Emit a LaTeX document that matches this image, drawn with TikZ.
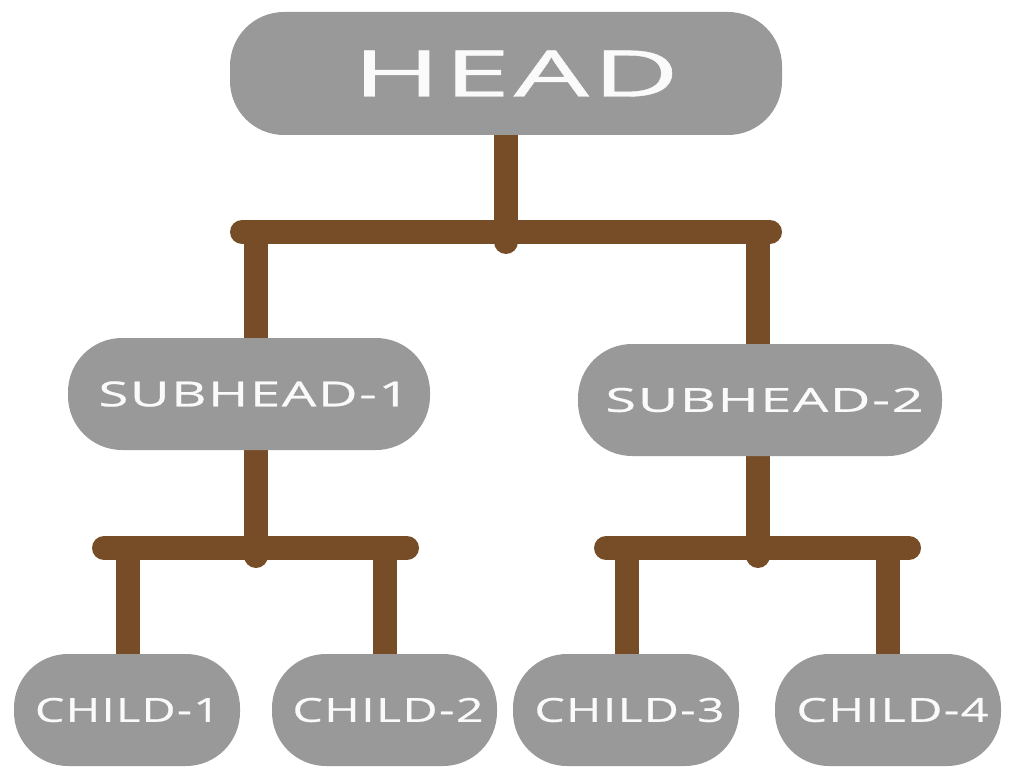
\documentclass[tikz,border=0pt]{standalone}
\usepackage{fontspec}
\usepackage{graphicx}
\newfontfamily\labfont[LetterSpace=3,FakeBold=0.6]{Open Sans}
\usetikzlibrary{backgrounds}
\definecolor{boxgray}{HTML}{999999}
\definecolor{linkbrown}{HTML}{764D26}
\definecolor{txtwhite}{HTML}{FAFAFA}
\tikzset{
  pill/.style={fill=boxgray, draw=none, rounded corners=54pt, inner sep=0pt,
    text=txtwhite, font=\labfont},
  link/.style={draw=linkbrown, line width=24pt, line cap=round},
}
\begin{document}
\begin{tikzpicture}[x=1pt,y=-1pt]
\useasboundingbox (0,0) rectangle (1012,778);
% nodes
\node[pill, minimum width=552pt, minimum height=123pt] (head) at (506,73.5)
  {\hspace*{20pt}\resizebox{326pt}{46pt}{HEAD}};
\node[pill, minimum width=362pt, minimum height=112pt] (sub1) at (249,394)
  {\hspace*{10pt}\resizebox{311pt}{25pt}{SUBHEAD-1}};
\node[pill, minimum width=364pt, minimum height=112pt] (sub2) at (760,400)
  {\hspace*{9pt}\resizebox{318pt}{24pt}{SUBHEAD-2}};
\node[pill, minimum width=226pt, minimum height=112pt] (c1) at (127,710)
  {\hspace*{1pt}\resizebox{185pt}{24pt}{CHILD-1}};
\node[pill, minimum width=225pt, minimum height=112pt] (c2) at (384.5,710)
  {\hspace*{7pt}\resizebox{191pt}{24pt}{CHILD-2}};
\node[pill, minimum width=226pt, minimum height=112pt] (c3) at (626,710)
  {\hspace*{7pt}\resizebox{190pt}{24pt}{CHILD-3}};
\node[pill, minimum width=226pt, minimum height=112pt] (c4) at (888,710)
  {\hspace*{9pt}\resizebox{192pt}{24pt}{CHILD-4}};
% junction coordinates
\coordinate (b0l) at (242,232);
\coordinate (b0r) at (770,232);
\coordinate (j0) at (506,242);
\coordinate (t1) at (256,232);
\coordinate (t2) at (758,232);
\coordinate (b1l) at (104,548);
\coordinate (b1r) at (407,548);
\coordinate (j1) at (256,556);
\coordinate (l1) at (128,548);
\coordinate (l2) at (385,548);
\coordinate (b2l) at (606,548);
\coordinate (b2r) at (909,548);
\coordinate (j2) at (758,556);
\coordinate (l3) at (627,548);
\coordinate (l4) at (888,548);
\begin{scope}[on background layer]
  \draw[link] (b0l) -- (b0r);
  \draw[link] (head.south) -- (j0);
  \draw[link] (t1) -- (t1 |- sub1.north);
  \draw[link] (t2) -- (t2 |- sub2.north);
  \draw[link] (b1l) -- (b1r);
  \draw[link] (sub1.south -| j1) -- (j1);
  \draw[link] (l1) -- (l1 |- c1.north);
  \draw[link] (l2) -- (l2 |- c2.north);
  \draw[link] (b2l) -- (b2r);
  \draw[link] (sub2.south -| j2) -- (j2);
  \draw[link] (l3) -- (l3 |- c3.north);
  \draw[link] (l4) -- (l4 |- c4.north);
\end{scope}
\end{tikzpicture}
\end{document}
